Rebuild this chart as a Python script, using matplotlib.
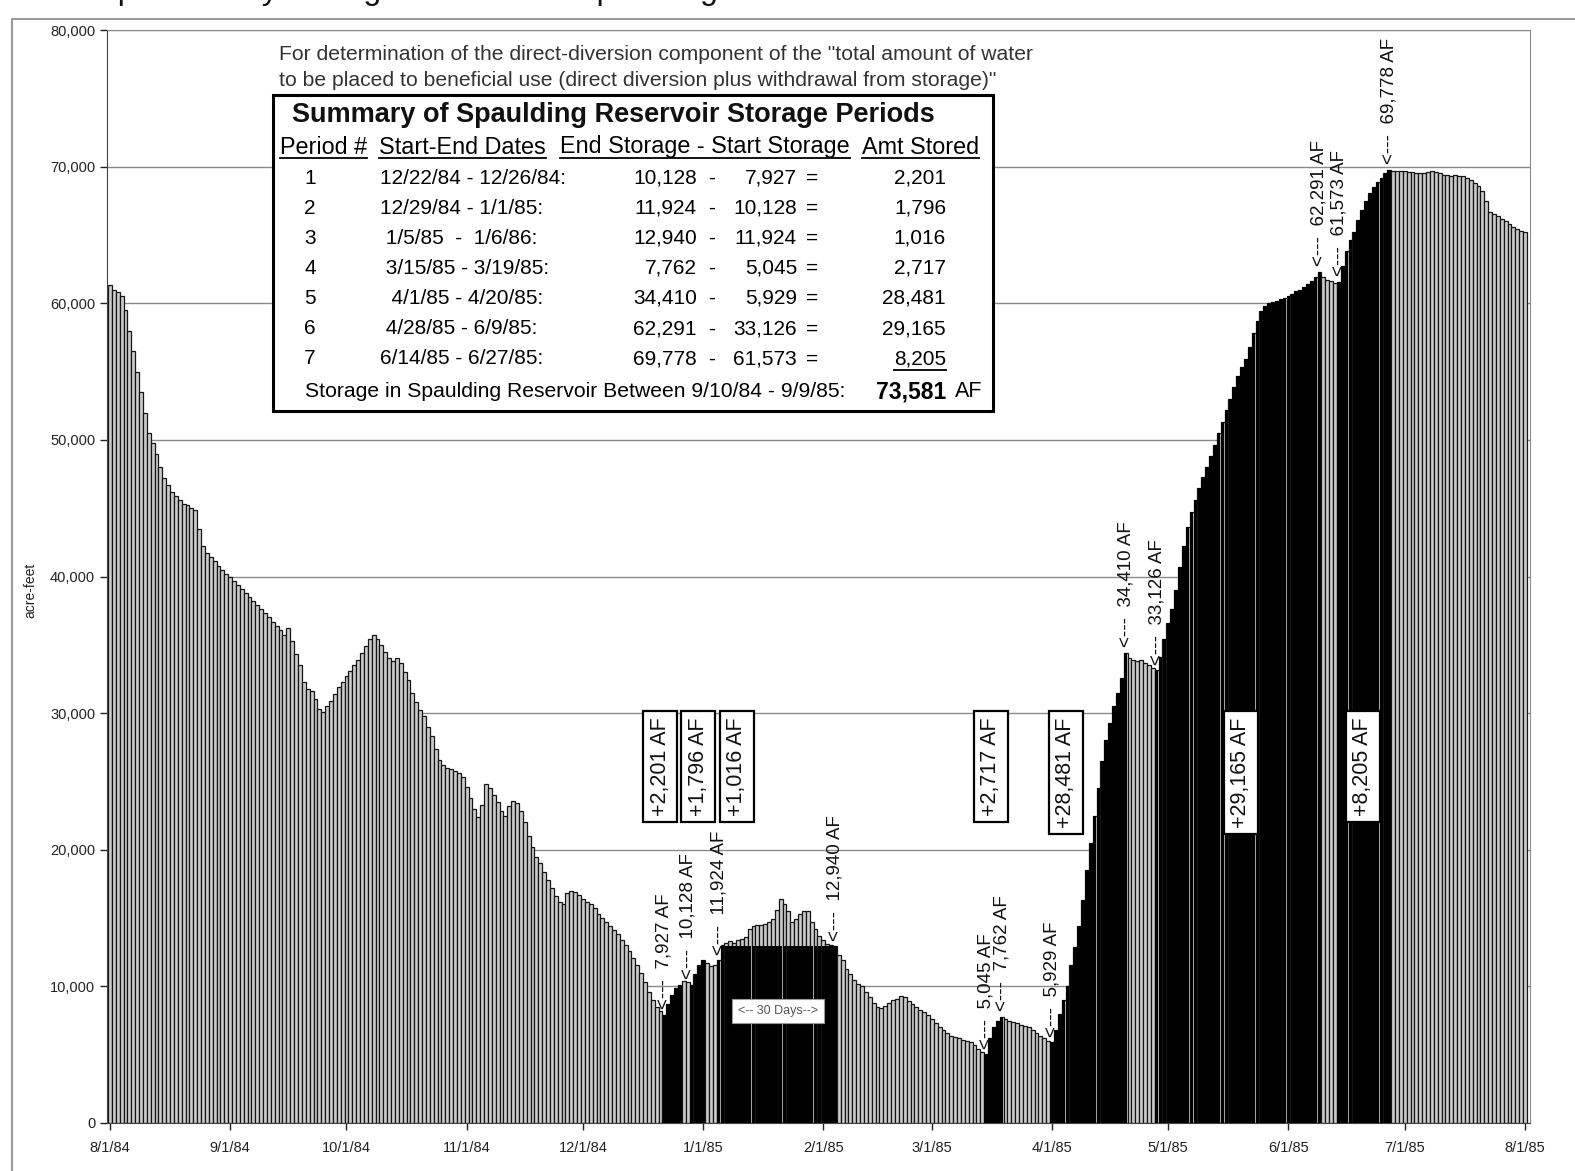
import numpy as np
import pandas as pd
import matplotlib
matplotlib.use("Agg")
import matplotlib.pyplot as plt
from matplotlib.patches import Rectangle
from matplotlib.lines import Line2D

plt.rcParams['font.family'] = ['Liberation Sans', 'DejaVu Sans']

W, H = 1575, 1171

# daily storage in Spaulding Reservoir (acre-feet)
aug84 = [61300, 61000, 60800, 60500, 59500, 58000, 56500, 55000, 53500, 52000,
         50500, 49800, 49000, 48000, 47200, 46700, 46200, 45900, 45600, 45300,
         45200, 45000, 44900, 43500, 42200, 41700, 41400, 41100, 40800, 40500, 40200]
sep84 = [40000, 39700, 39400, 39100, 38800, 38500, 38200, 37900, 37600, 37300,
         37000, 36700, 36400, 36100, 35700, 36200, 35300, 34300, 33500, 32300,
         31800, 31600, 31000, 30300, 30100, 30500, 30900, 31400, 31900, 32300]
oct84 = [32700, 33100, 33500, 33900, 34400, 34900, 35400, 35700, 35400, 35000,
         34500, 34000, 33800, 34000, 33700, 33000, 32400, 31500, 30800, 30200,
         29800, 29000, 28300, 27400, 26600, 26200, 26000, 25900, 25800, 25600, 25300]
nov84 = [24600, 23800, 23000, 22400, 23300, 24800, 24500, 24000, 23500, 22800,
         22500, 23200, 23600, 23400, 22800, 22000, 21000, 20200, 19500, 19000,
         18400, 17800, 17200, 16600, 16200, 16000, 16800, 17000, 16900, 16700]
dec84 = [16400, 16200, 16000, 15700, 15300, 15000, 14700, 14400, 14100, 13800,
         13400, 13000, 12600, 12100, 11600, 11000, 10300, 9600, 9000, 8500,
         8200, 7927, 8700, 9400, 9900, 10128, 10400, 10300, 10128, 10900, 11600]
jan85 = [11924, 11700, 11500, 11600, 11924, 13000, 13200, 13300, 13200, 13400,
         13500, 13600, 14200, 14400, 14500, 14500, 14600, 14700, 14900, 15600,
         16400, 16000, 15500, 14700, 14900, 15300, 15500, 15500, 14700, 14200, 13700]
feb85 = [13400, 13100, 13000, 12940, 12300, 11900, 11300, 10900, 10500, 10200,
         10000, 9600, 9200, 8800, 8500, 8400, 8600, 8800, 9000, 9100,
         9300, 9200, 8900, 8700, 8500, 8300, 8100, 7900]
mar85 = [7600, 7300, 7000, 6800, 6600, 6400, 6300, 6200, 6100, 6000,
         5900, 5700, 5400, 5200, 5045, 6200, 7000, 7500, 7762, 7600,
         7500, 7400, 7300, 7200, 7100, 7000, 6800, 6600, 6400, 6200, 6000]
apr85 = [5929, 6800, 8000, 9000, 10000, 11600, 12900, 14400, 16300, 18500,
         20500, 22500, 24500, 26500, 28000, 29300, 30500, 31500, 32600, 34410,
         34000, 33900, 33800, 33900, 33700, 33500, 33300, 33126, 34100, 35400]
may85 = [36600, 37600, 39000, 40700, 42200, 43600, 44700, 45600, 46500, 47300,
         48000, 48800, 49600, 50500, 51300, 52200, 53000, 53900, 54700, 55300,
         55900, 56800, 57800, 58700, 59400, 59800, 60000, 60100, 60200, 60300, 60400]
jun85 = [60500, 60700, 60900, 61000, 61200, 61400, 61600, 61900, 62291, 61900,
         61700, 61600, 61500, 61573, 62700, 63800, 64600, 65200, 66100, 66800,
         67500, 68100, 68500, 68900, 69200, 69500, 69778, 69700, 69700, 69650]
jul85 = [69650, 69600, 69600, 69550, 69500, 69500, 69600, 69700, 69600, 69500,
         69400, 69400, 69300, 69400, 69300, 69300, 69200, 69000, 68800, 68600,
         68200, 67500, 66700, 66500, 66400, 66200, 66000, 65800, 65600, 65400, 65300]
aug85 = [65200]

storage = np.array(aug84 + sep84 + oct84 + nov84 + dec84 + jan85 + feb85 +
                   mar85 + apr85 + may85 + jun85 + jul85 + aug85, dtype=float)
days = pd.date_range('1984-08-01', '1985-08-01', freq='D')
x = np.arange(len(days))

# storage periods (drawn black)
period_start = ['1984-12-22', '1984-12-29', '1985-01-05', '1985-03-15',
                '1985-04-01', '1985-04-28', '1985-06-14']
period_end = ['1984-12-26', '1985-01-01', '1985-02-04', '1985-03-19',
              '1985-04-20', '1985-06-09', '1985-06-27']

# summary table
period_no = [1, 2, 3, 4, 5, 6, 7]
period_dates = ['12/22/84 - 12/26/84:', '12/29/84 - 1/1/85:', ' 1/5/85  -  1/6/86:',
                ' 3/15/85 - 3/19/85:', '  4/1/85 - 4/20/85:', ' 4/28/85 - 6/9/85:',
                '6/14/85 - 6/27/85:']
end_storage = [10128, 11924, 12940, 7762, 34410, 62291, 69778]
start_storage = [7927, 10128, 11924, 5045, 5929, 33126, 61573]
amt_stored = [e - s for e, s in zip(end_storage, start_storage)]

# arrow labels on bars
label_dates = ['1984-12-22', '1984-12-28', '1985-01-05', '1985-02-04', '1985-03-15',
               '1985-03-19', '1985-04-01', '1985-04-20', '1985-04-28', '1985-06-09',
               '1985-06-14', '1985-06-27']
label_vals = [7927, 10128, 11924, 12940, 5045, 7762, 5929, 34410, 33126, 62291,
              61573, 69778]

# boxed amounts
box_x = [141.9, 151.7, 161.7, 227.2, 246.6, 291.7, 323.2]

fig = plt.figure(figsize=(W / 100, H / 100), dpi=100)
fig.patch.set_facecolor('white')

ax = fig.add_axes([107 / W, 1 - 1123 / H, (1530 - 107) / W, (1123 - 30) / H])
ax.bar(x, storage, width=1.0, color='#cbcbcb', edgecolor='#151515', linewidth=0.9, zorder=2)

black = np.zeros_like(storage)
mask = np.zeros(len(days), dtype=bool)
for s, e in zip(period_start, period_end):
    m = (days >= pd.Timestamp(s)) & (days <= pd.Timestamp(e))
    cap = storage[days == pd.Timestamp(e)][0]
    black[m] = np.minimum(storage[m], cap)
    mask |= m
ax.bar(x[mask], black[mask], width=0.92, color='black', linewidth=0, zorder=3)

ax.set_xlim(-0.77, 366.3)
ax.set_ylim(0, 80000)
ax.set_yticks(np.arange(0, 80001, 10000))
ax.set_yticklabels([f'{v:,}' for v in range(0, 80001, 10000)])
month_idx = [i for i, d in enumerate(days) if d.day == 1]
ax.set_xticks(month_idx)
ax.set_xticklabels([f'{days[i].month}/1/{days[i].year % 100}' for i in month_idx])
ax.tick_params(direction='out', length=5, labelsize=10.5, colors='#222', width=1)
ax.tick_params(axis='x', pad=8)
ax.yaxis.grid(True, color='#8a8a8a', linewidth=1.0)
ax.set_axisbelow(True)
for side in ['top', 'right']:
    ax.spines[side].set_color('#8a8a8a')
for side in ['left', 'bottom']:
    ax.spines[side].set_color('#444')

for d, v in zip(label_dates, label_vals):
    i = int(np.where(days == pd.Timestamp(d))[0][0])
    ax.text(i, v + 400, f'<---  {v:,} AF', rotation=90, ha='center', va='bottom',
            fontsize=13.5, color='#111', zorder=6)

for bx, a in zip(box_x, amt_stored):
    ax.text(bx, 29700, f'+{a:,} AF', rotation=90, ha='center', va='top', fontsize=15.5,
            color='#111', zorder=6,
            bbox=dict(boxstyle='square,pad=0.3', fc='white', ec='black', lw=1.6))

ax.text(172.3, 8200, '<-- 30 Days-->', ha='center', va='center', fontsize=9, color='#555',
        zorder=6, bbox=dict(boxstyle='square,pad=0.5', fc='white', ec='#999', lw=0.8))


def ftext(px, py, s, **kw):
    kw.setdefault('zorder', 6)
    kw.setdefault('va', 'center')
    return fig.text(px / W, 1 - py / H, s, **kw)


# outer frame and clipped title
fig.add_artist(Line2D([12 / W, 12 / W, 1.0], [0.0, 1 - 19 / H, 1 - 19 / H],
                      transform=fig.transFigure, color='#9a9a9a', lw=1.5))
ftext(50, -1, 'Computed Daily Storage Amounts in Spaulding Reservoir', fontsize=23,
      va='baseline', color='#111')
ftext(30, 590, 'acre-feet', rotation=90, ha='center', fontsize=10, color='#222')

ftext(279, 55, 'For determination of the direct-diversion component of the "total amount of water',
      fontsize=15.2, color='#333')
ftext(279, 80, 'to be placed to beneficial use (direct diversion plus withdrawal from storage)"',
      fontsize=15.2, color='#333')

fig.add_artist(Rectangle((273 / W, 1 - 411 / H), (993 - 273) / W, (411 - 95) / H,
                         transform=fig.transFigure, fc='white', ec='black', lw=2.2, zorder=5))
ftext(613, 115, 'Summary of Spaulding Reservoir Storage Periods', ha='center',
      fontsize=19.5, fontweight='bold', color='#111')
headers = [ftext(280, 147, 'Period #', fontsize=16.8),
           ftext(379, 147, 'Start-End Dates', fontsize=16.8),
           ftext(560, 147, 'End Storage - Start Storage', fontsize=16.8),
           ftext(862, 147, 'Amt Stored', fontsize=16.8)]

row_y = [178, 208, 238, 268, 298, 329, 359]
for ry, n, dt, e, s, a in zip(row_y, period_no, period_dates, end_storage,
                              start_storage, amt_stored):
    ftext(310, ry, str(n), ha='center', fontsize=15)
    ftext(380, ry, dt, fontsize=15)
    ftext(697, ry, f'{e:,}', ha='right', fontsize=15)
    ftext(712, ry, '-', ha='center', fontsize=15)
    ftext(797, ry, f'{s:,}', ha='right', fontsize=15)
    ftext(806, ry, '=', fontsize=15)
    last = ftext(946, ry, f'{a:,}', ha='right', fontsize=15)

ftext(305, 392, 'Storage in Spaulding Reservoir Between 9/10/84 - 9/9/85:', fontsize=15.2)
ftext(946, 392, f'{sum(amt_stored):,}', ha='right', fontsize=16.5, fontweight='bold')
ftext(955, 392, 'AF', fontsize=15.5)

# underlines
fig.canvas.draw()
r = fig.canvas.get_renderer()
for t, uy in [(h, 158) for h in headers] + [(last, 370)]:
    bb = t.get_window_extent(r)
    fig.add_artist(Line2D([bb.x0 / W, bb.x1 / W], [1 - uy / H, 1 - uy / H],
                          transform=fig.transFigure, color='black', lw=1.3, zorder=6))

fig.savefig('out.png', dpi=100)
